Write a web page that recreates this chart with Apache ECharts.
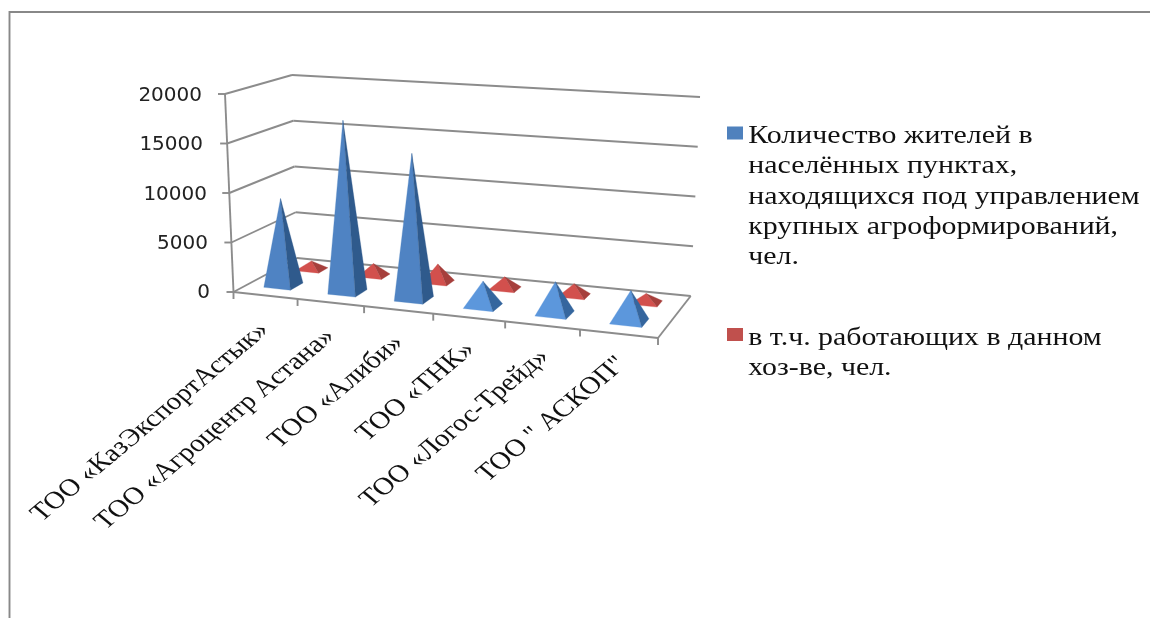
<!DOCTYPE html>
<html><head><meta charset="utf-8">
<style>html,body{margin:0;padding:0;background:#fff}#c{width:1150px;height:618px}</style>
<script src="https://cdn.jsdelivr.net/npm/echarts@6/dist/echarts.min.js"></script>
</head><body><div id="c"></div>
<script>
const categories = ['ТОО «КазЭкспортАстык»','ТОО «Агроцентр Астана»','ТОО «Алиби»','ТОО «ТНК»','ТОО «Логос-Трейд»','ТОО " АСКОП"'];
const residents = [8880,17350,14500,2450,3090,2950];
const workers = [890,1250,1850,1190,1180,900];
const yTicks = [0,5000,10000,15000,20000];
const residentsLegend = ['Количество жителей в','населённых пунктах,','находящихся под управлением','крупных агроформирований,','чел.'];
const workersLegend = ['в т.ч. работающих в данном','хоз-ве, чел.'];
const residentsName = residentsLegend.join(' ');
const workersName = workersLegend.join(' ');

const GRID = {left:234, top:96, width:424, height:197};
const SERIF = '"Liberation Serif", serif';
const LINE = '#8c8c8c';
const TEXT_STRETCH = 1.195;

// square -> quad homography for the perspective of the 3D box
function homography(q){
  const [[x0,y0],[x1,y1],[x2,y2],[x3,y3]] = q;
  const dx1=x1-x2, dx2=x3-x2, sx=x0-x1+x2-x3, dy1=y1-y2, dy2=y3-y2, sy=y0-y1+y2-y3;
  const den=dx1*dy2-dx2*dy1;
  const g=(sx*dy2-dx2*sy)/den, h=(dx1*sy-sx*dy1)/den;
  const a=x1-x0+g*x1, b=x3-x0+h*x3, c=x0, d=y1-y0+g*y1, e=y3-y0+h*y3, f=y0;
  return (s,t)=>{const w=g*s+h*t+1; return [(a*s+b*t+c)/w,(d*s+e*t+f)/w];};
}
// corners: front-left, front-right, back-right, back-left
const floorH = homography([[233.5,292],[658,338],[690.7,296],[297,258]]);
const topH = homography([[225,94],[673,122],[700,97],[292,75]]);
function project(u,v,w){
  const a=floorH(u,v), b=topH(u,v);
  return [a[0]+(b[0]-a[0])*w, a[1]+(b[1]-a[1])*w];
}
// library scale -> box coordinates
function toBox(api,cat,val){
  const p=api.coord([cat,val]);
  return {u:(p[0]-GRID.left)/GRID.width, w:(GRID.top+GRID.height-p[1])/GRID.height};
}
const n=categories.length;
function line(a,b){return {type:'line',shape:{x1:a[0],y1:a[1],x2:b[0],y2:b[1]},style:{stroke:LINE,lineWidth:1.9}};}

function pyramid(opts){
  return function(params,api){
    const c=api.value(0), val=api.value(1);
    const base=toBox(api,c,0), peak=toBox(api,c,val);
    const hw=opts.halfWidth/n, cu=base.u, v0=opts.v0, v1=opts.v1;
    const fl=project(cu-hw,v0,0), fr=project(cu+hw,v0,0), br=project(cu+hw,v1,0);
    const ap=project(cu,(v0+v1)/2,peak.w);
    const tall=val>5000;
    const front=opts.bright&&!tall?opts.bright:opts.front, side=opts.brightSide&&!tall?opts.brightSide:opts.side;
    const poly=(pts,fill)=>({type:'polygon',shape:{points:pts},style:{fill:fill,stroke:fill,lineWidth:0.3}});
    return {type:'group',children:[poly([fl,fr,ap],front),poly([fr,br,ap],side)]};
  };
}
const digits={fontFamily:'DejaVu Sans',fontSize:20};
const option={
  animation:false,
  backgroundColor:'#fff',
  grid:GRID,
  graphic:[{type:'polyline',silent:true,shape:{points:[[9.5,618],[9.5,12],[1150,12]]},style:{stroke:'#888',lineWidth:1.9,fill:null}}],
  xAxis:{type:'category',data:categories,axisLabel:{show:false},axisLine:{show:false},axisTick:{show:false},splitLine:{show:false}},
  yAxis:{type:'value',min:0,max:20000,interval:5000,axisLine:{show:false},axisTick:{show:false},splitLine:{show:false},
    axisLabel:{margin:24,formatter:v=>'{p'+v+'|'+v+'}',color:'#222',
      rich:{p0:{...digits,padding:[0,0,0,0]},p5000:{...digits,padding:[0,2,0,0]},p10000:{...digits,padding:[0,3,0,0]},p15000:{...digits,padding:[0,7,0,0]},p20000:{...digits,padding:[0,8,0,0]}}}},
  legend:[
    {data:[{name:residentsName,icon:'path://M0 0H16V13H0ZM0 141H0.01V140.99Z'}],left:727,top:121,padding:0,orient:'vertical',itemWidth:16,itemHeight:141,itemGap:0,symbolKeepAspect:false,selectedMode:false,
     formatter:()=>residentsLegend.join('\n'),textStyle:{fontFamily:SERIF,fontSize:25,lineHeight:30.4,color:'#111',padding:[0,0,0,1]}},
    {data:[{name:workersName,icon:'path://M0 0H16V13H0ZM0 51H0.01V50.99Z'}],left:727,top:323,padding:0,orient:'vertical',itemWidth:16,itemHeight:51,itemGap:0,symbolKeepAspect:false,selectedMode:false,
     formatter:()=>workersLegend.join('\n'),textStyle:{fontFamily:SERIF,fontSize:25,lineHeight:30.4,color:'#111',padding:[0,0,0,1]}}
  ],
  series:[
    {name:'frame',type:'custom',coordinateSystem:'cartesian2d',silent:true,z:1,
     data:yTicks.map(v=>[0,v]),encode:{x:0,y:1},
     renderItem:(params,api)=>{
       const w=toBox(api,0,api.value(1)).w;
       const a=project(0,0,w),b=project(0,1,w),c=project(1,1,w);
       const kids=[line([a[0]-7,a[1]],a),line(a,b),line(b,c)];
       if(params.dataIndex===0){
         const f=project(1,0,0);
         kids.push(line(a,f),line(f,c),line(project(0,0,0),project(0,0,1)));
         for(let i=0;i<=n;i++){const t=project(i/n,0,0);kids.push(line(t,[t[0],t[1]+7]));}
       }
       return {type:'group',children:kids};
     }},
    {name:'labels',type:'custom',coordinateSystem:'cartesian2d',silent:true,z:1,
     data:categories.map((c,i)=>[i,0]),encode:{x:0,y:1},
     renderItem:(params,api)=>{
       const i=api.value(0), b=toBox(api,i,0), p=project(b.u,0,0);
       return {type:'group',x:p[0]-1+5*b.u,y:p[1]+31.5-5*b.u,scaleX:TEXT_STRETCH,children:[{type:'text',rotation:Math.PI/4,
         style:{text:categories[i],align:'right',verticalAlign:'middle',fontFamily:SERIF,fontSize:24.5,fill:'#111'}}]};
     }},
    {name:workersName,type:'custom',coordinateSystem:'cartesian2d',z:2,itemStyle:{color:'#C0504D'},
     data:workers.map((v,i)=>[i,v]),encode:{x:0,y:1},
     renderItem:pyramid({halfWidth:0.19,v0:0.66,v1:0.82,front:'#D2504D',side:'#A63F3C'})},
    {name:residentsName,type:'custom',coordinateSystem:'cartesian2d',z:3,itemStyle:{color:'#4F81BD'},
     data:residents.map((v,i)=>[i,v]),encode:{x:0,y:1},
     renderItem:pyramid({halfWidth:0.21,v0:0.18,v1:0.38,front:'#4F83C3',side:'#2F5A8C',bright:'#5C97DC',brightSide:'#35669E'})}
  ]
};
const chart=echarts.init(document.getElementById('c'),null,{renderer:'canvas'});
chart.setOption(option);
// the reference's legend type is stretched sideways: widen the legend's own text
const zr=chart.getZr(), legendTexts=[residentsLegend.join('\n'),workersLegend.join('\n')];
const seen=new Set();
zr.storage.getDisplayList(true).forEach(el=>{
  let t=el.parent||el;
  while(t&&!(t.style&&typeof t.style.text==='string')&&t.parent)t=t.parent;
  if(t&&t.style&&legendTexts.includes(t.style.text)&&!seen.has(t)){
    seen.add(t);t.scaleX=TEXT_STRETCH;t.x-=5;t.markRedraw();
  }
});
zr.refresh();
</script></body></html>
